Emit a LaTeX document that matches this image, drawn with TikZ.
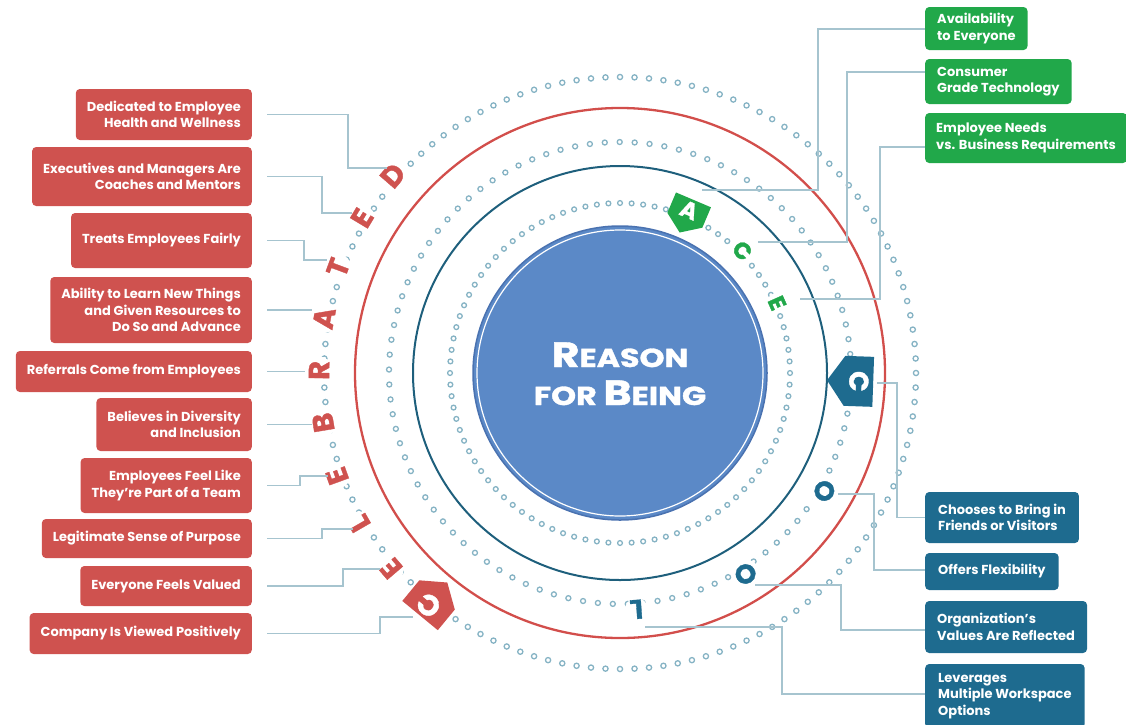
\documentclass[tikz,border=0pt]{standalone}
\usepackage{fontspec}
\usepackage{graphicx}
\setmainfont{Poppins}
\newfontfamily\heavyfont[FakeBold=1.2]{Poppins}
\usetikzlibrary{shapes.symbols,calc}
\definecolor{redc}{HTML}{CF524F}
\definecolor{redl}{HTML}{D24E4B}
\definecolor{greenc}{HTML}{21A84A}
\definecolor{bluec}{HTML}{1E6B8F}
\definecolor{tealc}{HTML}{1E5F7C}
\definecolor{dotc}{HTML}{86B3C4}
\definecolor{connc}{HTML}{A6C4CF}
\definecolor{centc}{HTML}{5B89C7}
\definecolor{centd}{HTML}{4A72B0}
\newcommand\boxfont{\bfseries\fontsize{13}{16.5}\selectfont}
\newcommand\ringfont{\heavyfont\bfseries\fontsize{29}{29}\selectfont}
\newcommand\bluefont{\heavyfont\bfseries\fontsize{27}{27}\selectfont}
\newcommand\smallringfont{\heavyfont\bfseries\fontsize{23}{23}\selectfont}
\newcommand\myBigCap[1]{{\fontsize{35}{35}\selectfont #1}}
\newcommand\mySmCap[1]{{\fontsize{26}{26}\selectfont #1}}
\begin{document}
\begin{tikzpicture}[x=1pt,y=-1pt,
  lbox/.style={fill=redc, rounded corners=4pt, text=white, font=\boxfont, align=right, inner xsep=11pt, inner ysep=0pt, anchor=east},
  gbox/.style={fill=greenc, rounded corners=4pt, text=white, font=\boxfont, align=left, inner xsep=13pt, inner ysep=0pt, anchor=west},
  bbox/.style={fill=bluec, rounded corners=4pt, text=white, font=\boxfont, align=left, inner xsep=13pt, inner ysep=0pt, anchor=west},
  dot/.style={draw=dotc, line width=1.3pt},
  conn/.style={draw=connc, line width=1.3pt},
  rl/.style={text=redc, font=\ringfont, fill=white, circle, inner sep=0pt},
  bl/.style={text=bluec, font=\bluefont, fill=white, circle, inner sep=0pt},
  gl/.style={text=greenc, font=\smallringfont, fill=white, circle, inner sep=0pt},
  tag/.style={signal, signal to=south, signal pointer angle=110, text=white, inner sep=3pt}
]
\useasboundingbox (0,0) rectangle (1126,724);
% dotted rings
\foreach \i in {0,...,127} \draw[dot] ({620+296*cos(\i*(360/128))},{373-296*sin(\i*(360/128))}) circle[radius=2.6];
\foreach \i in {0,...,96} \draw[dot] ({620+231*cos(\i*(360/97)+1)},{373-231*sin(\i*(360/97)+1)}) circle[radius=2.5];
\foreach \i in {0,...,91} \draw[dot] ({620+170*cos(\i*(360/92))},{373-170*sin(\i*(360/92))}) circle[radius=2.4];
% circles
\draw[redl, line width=2.3pt] (620,373) circle[radius=265];
\draw[tealc, line width=2pt] (620,373) circle[radius=207];
\fill[centc] (620,373) circle[radius=147];
\draw[centd, line width=1.5pt] (620,373) circle[radius=147];
\draw[white, line width=1.2pt] (620,373) circle[radius=143];
\node[text=white, anchor=base, font=\heavyfont\bfseries, inner sep=0pt] (t1) at (620,367) {\scalebox{1.22}[1]{\myBigCap{R}\mySmCap{EASON}}};
\node[text=white, anchor=base, font=\heavyfont\bfseries, inner sep=0pt] (t2) at (620,405) {\scalebox{1.22}[1]{\mySmCap{FOR }\myBigCap{B}\mySmCap{EING}}};
% red letters CELEBRATED
\node[rl, rotate=49] (lD) at ({620+301*cos(139)},{373-301*sin(139)}) {D};
\node[rl, rotate=59] (lE3) at ({620+301*cos(149)},{373-301*sin(149)}) {E};
\node[rl, rotate=69.5] (lT) at ({620+301*cos(159.5)},{373-301*sin(159.5)}) {T};
\node[rl, rotate=79.5] (lA) at ({620+301*cos(169.5)},{373-301*sin(169.5)}) {A};
\node[rl, rotate=89.5] (lR) at ({620+301*cos(179.5)},{373-301*sin(179.5)}) {R};
\node[rl, rotate=99.5] (lB) at ({620+301*cos(189.5)},{373-301*sin(189.5)}) {B};
\node[rl, rotate=110] (lE2) at ({620+301*cos(200)},{373-301*sin(200)}) {E};
\node[rl, rotate=120] (lL) at ({620+301*cos(210)},{373-301*sin(210)}) {L};
\node[rl, rotate=130.5] (lE1) at ({620+301*cos(220.5)},{373-301*sin(220.5)}) {E};
\node[tag, fill=redc, font=\ringfont, rotate=140.5, minimum width=46pt, minimum height=36pt] (lC) at ({620+301*cos(230.5)},{373-301*sin(230.5)}) {C};
% green letters ACE
\node[tag, fill=greenc, font=\smallringfont, rotate=-23, minimum width=38pt, minimum height=30pt] (gA) at ({620+177*cos(67)},{373-177*sin(67)}) {A};
\node[gl, rotate=-45] (gC) at ({620+173*cos(45)},{373-173*sin(45)}) {C};
\node[gl, rotate=-66] (gE) at ({620+172*cos(24)},{373-172*sin(24)}) {E};
% blue letters COOL
\node[tag, fill=bluec, font=\bluefont, rotate=-92, minimum width=50pt, minimum height=38pt] (bC) at ({620+239*cos(-2)},{373-239*sin(-2)}) {C};
\node[bl, rotate=-120] (bO1) at ({620+236*cos(-30)},{373-236*sin(-30)}) {O};
\node[bl, rotate=-148] (bO2) at ({620+237*cos(-58)},{373-237*sin(-58)}) {O};
\node[bl, rotate=-176] (bL) at ({620+237*cos(-86)},{373-237*sin(-86)}) {L};
% left boxes
\node[lbox, minimum height=51pt] (b1) at (252,114.5) {Dedicated to Employee\\Health and Wellness};
\node[lbox, minimum height=59pt] (b2) at (252,176.5) {Executives and Managers Are\\Coaches and Mentors};
\node[lbox, minimum height=55pt] (b3) at (252,240.5) {Treats Employees Fairly};
\node[lbox, minimum height=66pt] (b4) at (252,310) {Ability to Learn New Things\\and Given Resources to\\Do So and Advance};
\node[lbox, minimum height=41pt] (b5) at (252,371.5) {Referrals Come from Employees};
\node[lbox, minimum height=53pt] (b6) at (252,424.5) {Believes in Diversity\\and Inclusion};
\node[lbox, minimum height=55pt] (b7) at (252,485.5) {Employees Feel Like\\They're Part of a Team};
\node[lbox, minimum height=39pt] (b8) at (252,538.5) {Legitimate Sense of Purpose};
\node[lbox, minimum height=40pt] (b9) at (252,586) {Everyone Feels Valued};
\node[lbox, minimum height=41pt] (b10) at (252,633.5) {Company Is Viewed Positively};
% right boxes
\node[gbox, minimum height=43pt, inner xsep=12pt] (g1) at (925,28.5) {Availability\\to Everyone};
\node[gbox, minimum height=45pt, inner xsep=12pt] (g2) at (925,81.5) {Consumer\\Grade Technology};
\node[gbox, minimum height=50pt, inner xsep=11pt] (g3) at (925,138) {Employee Needs\\vs. Business Requirements};
\node[bbox, minimum height=51pt] (r1) at (925,517.5) {Chooses to Bring in\\Friends or Visitors};
\node[bbox, minimum height=37pt] (r2) at (925,571.5) {Offers Flexibility};
\node[bbox, minimum height=52pt, inner xsep=12pt] (r3) at (925,627) {Organization's\\Values Are Reflected};
\node[bbox, minimum height=64pt] (r4) at (925,696) {Leverages\\Multiple Workspace\\Options};
% connector ends
\coordinate (eD) at (387,168);
\coordinate (eE3) at (352,213);
\coordinate (eT) at (327,260);
\coordinate (eA) at (312,310);
\coordinate (eR) at (305,371.5);
\coordinate (eB) at (312,424.5);
\coordinate (eE2) at (328,476);
\coordinate (eL) at (353,529);
\coordinate (eE1) at (380,569);
\coordinate (eC) at (413,617);
\coordinate (egA) at (702,190);
\coordinate (egC) at (758,242);
\coordinate (egE) at (800,299);
\coordinate (ebC) at (877,383);
\coordinate (ebO1) at (838,494);
\coordinate (ebO2) at (755,585);
\coordinate (ebL) at (645,627);
% left connectors
\draw[conn] ([xshift=15pt]b1.east) -| (348,168) -- (eD);
\draw[conn] ([xshift=15pt]b2.east) -| (322,213) -- (eE3);
\draw[conn] ([xshift=15pt]b3.east) -| (304,260) -- (eT);
\draw[conn] ([xshift=15pt]b4.east) -- (eA);
\draw[conn] ([xshift=15pt]b5.east) -- (eR);
\draw[conn] ([xshift=15pt]b6.east) -- (eB);
\draw[conn] ([xshift=15pt]b7.east) -| (300,476) -- (eE2);
\draw[conn] ([xshift=15pt]b8.east) -| (322,529) -- (eL);
\draw[conn] ([xshift=15pt]b9.east) -| (343,569) -- (eE1);
\draw[conn] ([xshift=15pt]b10.east) -| (380,617) -- (eC);
% right connectors
\draw[conn] (g1.west |- 0,29) -| (818,190) -- (egA);
\draw[conn] (g2.west |- 0,72) -| (847,242) -- (egC);
\draw[conn] (g3.west |- 0,147) -| (880,299) -- (egE);
\draw[conn] (r1.west) -| (897,383) -- (ebC);
\draw[conn] (r2.west |- 0,570) -| (874,494) -- (ebO1);
\draw[conn] (r3.west |- 0,630) -| (841,585) -- (ebO2);
\draw[conn] (r4.west |- 0,694) -| (782,627) -- (ebL);
\end{tikzpicture}
\end{document}
